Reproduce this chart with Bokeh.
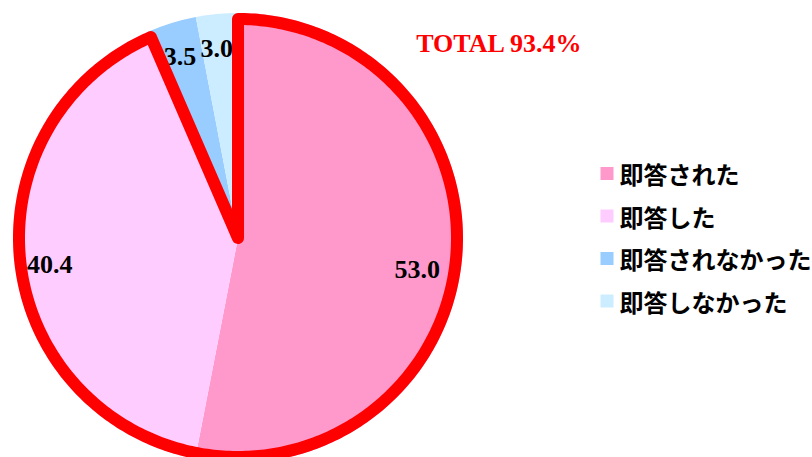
import numpy as np
from bokeh.plotting import figure
from bokeh.models import Range1d, ColumnDataSource
from bokeh.core.properties import value
from bokeh.embed import file_html
from bokeh.resources import INLINE

# ---- data ----
categories = ["即答された", "即答した", "即答されなかった", "即答しなかった"]
shares = [53.0, 40.4, 3.5, 3.0]
share_labels = ["53.0", "40.4", "3.5", "3.0"]
colors = ["#FF99CC", "#FFCCFF", "#99CCFF", "#CCECFF"]
total_label = "TOTAL 93.4%"
highlight_count = 2  # first two slices are outlined (93.4%)

# ---- layout (screen-pixel based) ----
PAGE_H = 457
W, H = 812, 457
CX, CY = 237.5, 237.5          # pie centre (screen px)
R = 225                        # pie radius
R_OUT = 219                    # centre line of red outline
OUT_W = 12
LABEL_R = [182, 190, 191, 191]
LABEL_NUDGE_DEG = [-4.6, 1.8, 0.6, 1.0]


def sy(y):
    return PAGE_H - y


p = figure(width=W, height=H,
           x_range=Range1d(0, W), y_range=Range1d(PAGE_H - H, PAGE_H),
           output_backend="svg", toolbar_location=None, min_border=0,
           x_axis_location=None, y_axis_location=None)
p.grid.visible = False
p.outline_line_color = None
p.background_fill_color = "white"
p.border_fill_color = "white"

vals = np.array(shares, dtype=float)
frac = vals / vals.sum()
cum = np.concatenate([[0.0], np.cumsum(frac)])
start = np.pi / 2 - cum[:-1] * 2 * np.pi
end = np.pi / 2 - cum[1:] * 2 * np.pi
mid = (start + end) / 2

src = ColumnDataSource(dict(cat=categories, start=start, end=end, color=colors,
                            x=[CX] * len(vals), y=[sy(CY)] * len(vals)))
p.wedge(x="x", y="y", radius=R, start_angle="start", end_angle="end",
        direction="clock", fill_color="color", line_color=None, source=src)

# value labels
la = mid + np.radians(LABEL_NUDGE_DEG)
lx = CX + np.array(LABEL_R) * np.cos(la)
ly = sy(CY) + np.array(LABEL_R) * np.sin(la)
p.text(x=lx, y=ly, text=share_labels, text_align="center", text_baseline="middle",
       text_font=value("Liberation Serif"), text_font_style="bold",
       text_font_size="26px", text_color="black")

# red outline around highlighted slices
a0 = np.pi / 2
a1 = np.pi / 2 - cum[highlight_count] * 2 * np.pi
arc = np.linspace(a0, a1, 400)
px = np.concatenate([[CX], CX + R_OUT * np.cos(arc), [CX]])
py = np.concatenate([[sy(CY)], sy(CY) + R_OUT * np.sin(arc), [sy(CY)]])
p.patch(px, py, fill_color=None, line_color="#FF0000", line_width=OUT_W,
        line_join="round")

# total label
p.text(x=[499], y=[sy(43)], text=[total_label], text_align="center",
       text_baseline="middle", text_font=value("Liberation Serif"),
       text_font_style="bold", text_font_size="26px", text_color="#FF0000")

# legend
LEG_X, LEG_Y0, LEG_STEP = 606.5, 173, 42.5
ly_leg = [sy(LEG_Y0 + i * LEG_STEP) for i in range(len(categories))]
p.rect(x=[LEG_X] * len(categories), y=ly_leg, width=13, height=13,
       fill_color=colors, line_color=None)
p.text(x=[LEG_X + 12.5] * len(categories), y=ly_leg, text=categories,
       text_align="left", text_baseline="middle",
       text_font=value("Noto Sans CJK JP"), text_font_style="bold",
       text_font_size="24px", text_color="black")

open("out.html", "w").write(file_html(p, INLINE))
